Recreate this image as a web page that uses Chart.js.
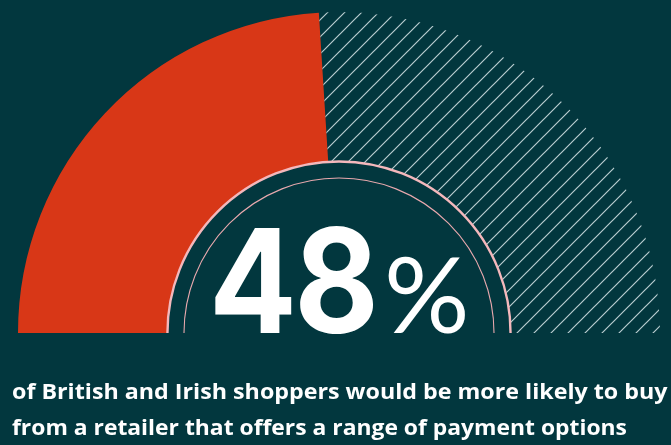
<!DOCTYPE html>
<html>
<head>
<meta charset="utf-8">
<script src="https://cdn.jsdelivr.net/npm/chart.js@4"></script>
<style>
  html, body { margin: 0; padding: 0; background: #02373e; }
  #wrap { position: relative; width: 671px; height: 445px; overflow: hidden; }
  #chart { position: absolute; left: 0; top: 0; }
  .txt { position: absolute; color: #ffffff; white-space: nowrap; line-height: 1; transform-origin: 0 0; }
  #big { font-family: Inter, "Noto Sans", sans-serif; font-weight: 750; font-size: 145px; letter-spacing: -3px; }
  #pct { font-family: Lato, sans-serif; font-weight: 400; font-size: 104px; }
  .cap { font-family: "Open Sans", sans-serif; font-weight: 700; font-size: 22px; }
</style>
</head>
<body>
<div id="wrap">
  <canvas id="chart" width="671" height="445"></canvas>
  <div class="txt" id="big">48</div>
  <div class="txt" id="pct">%</div>
  <div class="txt cap" id="cap1">of British and Irish shoppers would be more likely to buy</div>
  <div class="txt cap" id="cap2">from a retailer that offers a range of payment options</div>
</div>
<script>
var share_labels = ['More likely to buy', 'Other shoppers'];
var share_values = [48, 52];
var headline = '48';
var caption_lines = [
	'of British and Irish shoppers would be more likely to buy',
	'from a retailer that offers a range of payment options'
];

var col_red = '#d83717';
var col_pink = '#f4b8bc';

// diagonal stripes for the remaining share
function makeHatch()
{
	var s = 17;
	var c = document.createElement('canvas');
	c.width = s;
	c.height = s;
	var g = c.getContext('2d');
	g.strokeStyle = 'rgba(205,222,224,0.9)';
	g.lineWidth = 1.2;
	g.beginPath();
	g.moveTo(0, s); g.lineTo(s, 0);
	g.moveTo(-2, 2); g.lineTo(2, -2);
	g.moveTo(s - 2, s + 2); g.lineTo(s + 2, s - 2);
	g.stroke();
	return g.createPattern(c, 'repeat');
}

// pink rings around the hole
var ringPlugin = {
	id: 'rings',
	afterDatasetsDraw: function(chart)
	{
		var arc = chart.getDatasetMeta(0).data[0];
		var ctx = chart.ctx;
		ctx.save();
		ctx.strokeStyle = col_pink;
		ctx.lineWidth = 2.4;
		ctx.beginPath();
		ctx.arc(arc.x, arc.y, arc.innerRadius - 0.5, Math.PI, 2 * Math.PI);
		ctx.stroke();
		ctx.lineWidth = 1.1;
		ctx.strokeStyle = '#e9a9ae';
		ctx.beginPath();
		ctx.arc(arc.x, arc.y, 155, Math.PI, 2 * Math.PI);
		ctx.stroke();
		ctx.restore();
	}
};

var chart = new Chart(document.getElementById('chart'), {
	type: 'doughnut',
	data: {
		labels: share_labels,
		datasets: [{
			data: share_values,
			backgroundColor: [col_red, makeHatch()],
			borderWidth: 0
		}]
	},
	options: {
		responsive: false,
		animation: false,
		events: [],
		rotation: -90,
		circumference: 180,
		cutout: '53.6%',
		layout: { padding: { left: 18, right: 11, top: 12, bottom: 112 } },
		plugins: {
			legend: { display: false },
			tooltip: { enabled: false }
		}
	},
	plugins: [ringPlugin]
});

// put a text block with its ink starting at x, baseline at baseY,
// squeezed or stretched to inkW wide
function placeText(id, text, x, baseY, inkW)
{
	var el = document.getElementById(id);
	el.textContent = text;
	var st = getComputedStyle(el);
	var m = document.createElement('canvas').getContext('2d');
	m.font = st.fontWeight + ' ' + st.fontSize + ' ' + st.fontFamily;
	if( st.letterSpacing && st.letterSpacing != 'normal' )
		m.letterSpacing = st.letterSpacing;
	var tm = m.measureText(text);
	var fs = parseFloat(st.fontSize);
	var off = (fs + tm.fontBoundingBoxAscent - tm.fontBoundingBoxDescent) / 2;
	var ink = tm.actualBoundingBoxRight + tm.actualBoundingBoxLeft;
	var sx = inkW ? inkW / ink : 1;
	el.style.transform = 'scaleX(' + sx + ')';
	el.style.left = (x + tm.actualBoundingBoxLeft * sx) + 'px';
	el.style.top = (baseY - off) + 'px';
}

placeText('big', headline, 215, 333, 158);
placeText('pct', '%', 388, 333, 77);
placeText('cap1', caption_lines[0], 12, 399, 656);
placeText('cap2', caption_lines[1], 12, 435, 615);
</script>
</body>
</html>
